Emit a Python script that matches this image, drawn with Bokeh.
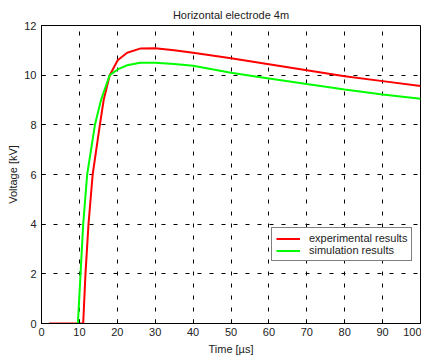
from bokeh.plotting import figure
from bokeh.models import Range1d, FixedTicker, Legend, LegendItem
from bokeh.embed import file_html
from bokeh.resources import INLINE

t_exp = [2, 11.0, 11.6, 12.4, 13.5, 15.4, 16.4, 18.0, 20.1, 22.6, 26, 30, 35, 40, 50, 60, 70, 80, 90, 100]
v_exp = [0, 0, 2, 4, 6, 8, 9.0, 10.0, 10.6, 10.9, 11.07, 11.08, 11.0, 10.9, 10.68, 10.44, 10.2, 9.96, 9.76, 9.56]

t_sim = [9.6, 10.3, 11.0, 12.05, 14.1, 15.7, 18.0, 20.1, 22.6, 26, 30, 35, 40, 50, 60, 70, 80, 90, 100]
v_sim = [0, 2, 4, 6, 8, 9.0, 10.0, 10.23, 10.4, 10.5, 10.5, 10.45, 10.38, 10.1, 9.87, 9.64, 9.42, 9.22, 9.05]

x_ticks = [0, 10, 20, 30, 40, 50, 60, 70, 80, 90, 100]
y_ticks = [0, 2, 4, 6, 8, 10, 12]

FONT = "Liberation Sans"

p = figure(width=421, height=357, output_backend="svg", toolbar_location=None,
           x_range=Range1d(0, 100), y_range=Range1d(0, 12),
           min_border_left=41, min_border_right=1, min_border_top=25, min_border_bottom=0)

p.title.text = "Horizontal electrode 4m"
p.title.align = "center"
p.title.text_font = FONT
p.title.text_font_size = "11px"
p.title.text_font_style = "normal"
p.title.text_color = "#222222"
p.title.standoff = 10

p.outline_line_color = "black"
p.outline_line_width = 1
p.outline_line_alpha = 1

for ax in (p.xaxis, p.yaxis):
    ax.axis_line_color = "black"
    ax.major_tick_in = 4
    ax.major_tick_out = 0
    ax.minor_tick_line_color = None
    ax.major_label_text_font = FONT
    ax.major_label_text_font_size = "11px"
    ax.major_label_text_color = "#222222"
    ax.axis_label_text_font = FONT
    ax.axis_label_text_font_size = "11px"
    ax.axis_label_text_font_style = "normal"
    ax.axis_label_text_color = "#222222"

p.xaxis.ticker = FixedTicker(ticks=x_ticks)
p.yaxis.ticker = FixedTicker(ticks=y_ticks)
p.xaxis.axis_label = "Time [µs]"
p.yaxis.axis_label = "Voltage [kV]"
p.xaxis.major_label_standoff = 4
p.yaxis.major_label_standoff = 5
p.xaxis.axis_label_standoff = 4
p.yaxis.axis_label_standoff = 2

p.xgrid.ticker = FixedTicker(ticks=x_ticks)
p.ygrid.ticker = FixedTicker(ticks=y_ticks)
for g in (p.xgrid, p.ygrid):
    g.grid_line_color = "black"
    g.grid_line_dash = "4 8"
    g.grid_line_width = 1

r1 = p.line(t_exp, v_exp, line_color="#ff0000", line_width=2)
r2 = p.line(t_sim, v_sim, line_color="#00ff00", line_width=2)

legend = Legend(items=[LegendItem(label="experimental results", renderers=[r1]),
                       LegendItem(label="simulation results", renderers=[r2])],
                location=(230, 62))
legend.border_line_color = "black"
legend.border_line_width = 1.5
legend.background_fill_alpha = 1
legend.label_text_font = FONT
legend.label_text_font_size = "11px"
legend.label_text_color = "#222222"
legend.label_height = 11
legend.glyph_height = 11
legend.glyph_width = 24
legend.label_standoff = 9
legend.spacing = 0
legend.padding = 4
legend.margin = 0
p.add_layout(legend, "center")

open("out.html", "w").write(file_html(p, INLINE))
